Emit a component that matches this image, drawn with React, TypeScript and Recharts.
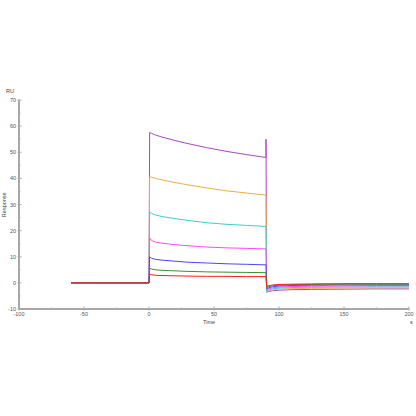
import { LineChart, Line, XAxis, YAxis } from 'recharts'

// time axis (s); repeated values give the vertical injection / wash steps
const TIME = [-60, 0, 0.5, 2, 5, 10, 20, 30, 45, 60, 75, 90, 90, 90.5, 92, 95, 100, 110, 125, 150, 175, 200]

const PURPLE = [0, 0, 57.6, 57.2, 56.6, 55.8, 54.5, 53.3, 51.7, 50.3, 49.1, 48.0, 55.0, -3.6, -3.3, -3.0, -2.8, -2.6, -2.5, -2.4, -2.3, -2.3]
const ORANGE = [0, 0, 40.7, 40.4, 40.0, 39.4, 38.4, 37.5, 36.3, 35.2, 34.4, 33.6, 33.6, -3.3, -3.0, -2.7, -2.4, -2.2, -2.1, -2.0, -1.9, -1.9]
const CYAN = [0, 0, 27.1, 26.6, 26.0, 25.4, 24.6, 23.9, 23.0, 22.4, 22.0, 21.6, 21.6, -3.0, -2.7, -2.3, -2.0, -1.8, -1.7, -1.6, -1.5, -1.5]
const MAGENTA = [0, 0, 17.2, 16.2, 15.6, 15.2, 14.6, 14.2, 13.7, 13.4, 13.2, 13.0, 13.0, -2.6, -2.3, -1.9, -1.6, -1.4, -1.3, -1.2, -1.1, -1.1]
const BLUE = [0, 0, 10.0, 9.4, 9.0, 8.7, 8.3, 7.9, 7.6, 7.3, 7.1, 6.9, 6.9, -2.2, -1.9, -1.5, -1.2, -1.0, -0.9, -0.8, -0.8, -0.8]
const GREEN = [0, 0, 5.6, 5.3, 5.0, 4.8, 4.6, 4.4, 4.2, 4.1, 4.0, 3.9, 3.9, -1.8, -1.5, -1.1, -0.9, -0.7, -0.6, -0.5, -0.5, -0.5]
const RED = [0, 0, 3.3, 3.1, 2.9, 2.8, 2.7, 2.6, 2.5, 2.5, 2.4, 2.4, 2.4, -1.4, -1.1, -0.8, -0.6, -0.5, -0.4, -0.3, -0.3, -0.3]

const X_TICKS = [-100, -75, -50, -25, 0, 25, 50, 75, 100, 125, 150, 175, 200]
const Y_TICKS = [-10, -5, 0, 5, 10, 15, 20, 25, 30, 35, 40, 45, 50, 55, 60, 65, 70]

const SERIES = [
  { key: 'purple', values: PURPLE, color: '#a848c0' },
  { key: 'orange', values: ORANGE, color: '#e8b048' },
  { key: 'cyan', values: CYAN, color: '#38d0d0' },
  { key: 'magenta', values: MAGENTA, color: '#ff48ff' },
  { key: 'blue', values: BLUE, color: '#4848ff' },
  { key: 'green', values: GREEN, color: '#3c8c3c' },
  { key: 'red', values: RED, color: '#ff1c1c' },
]

const data = TIME.map((t, i) => {
  const row: Record<string, number> = { t }
  SERIES.forEach((s) => (row[s.key] = s.values[i]))
  return row
})

const axisColor = '#a8a8a8'
const labelStyle = { fontFamily: 'Liberation Sans, Arial, sans-serif', fontSize: 5.5, fill: '#555' }

function XTick(props: any) {
  const { x, y, payload } = props
  const major = payload.value % 50 === 0
  return (
    <g>
      <line x1={x} x2={x} y1={y - (major ? 2.5 : 1.5)} y2={y + (major ? 1.5 : 0)} stroke={axisColor} strokeWidth={1} />
      {major && (
        <text x={x} y={y + 7} textAnchor="middle" {...labelStyle}>
          {payload.value}
        </text>
      )}
    </g>
  )
}

function YTick(props: any) {
  const { x, y, payload } = props
  const major = payload.value % 10 === 0
  return (
    <g>
      <line x1={x - (major ? 1.5 : 0)} x2={x + (major ? 2.5 : 1.5)} y1={y} y2={y} stroke={axisColor} strokeWidth={1} />
      {major && (
        <text x={x - 3} y={y + 2} textAnchor="end" {...labelStyle}>
          {payload.value}
        </text>
      )}
    </g>
  )
}

const txt = { position: 'absolute' as const, fontFamily: 'Liberation Sans, Arial, sans-serif', fontSize: 5.5, color: '#444', lineHeight: 1 }

export default function App() {
  return (
    <div style={{ position: 'absolute', left: 0, top: 0, width: 416, height: 416, background: '#fff' }}>
      <LineChart width={416} height={416} data={data} margin={{ top: 100, right: 7, bottom: 87, left: 0 }}>
        <XAxis
          dataKey="t"
          type="number"
          domain={[-100, 200]}
          ticks={X_TICKS}
          interval={0}
          height={20}
          axisLine={{ stroke: axisColor, strokeWidth: 2 }}
          tickLine={false}
          tickSize={0}
          tickMargin={0}
          tick={<XTick />}
        />
        <YAxis
          type="number"
          domain={[-10, 70]}
          ticks={Y_TICKS}
          interval={0}
          width={19}
          axisLine={{ stroke: axisColor, strokeWidth: 2 }}
          tickLine={false}
          tickSize={0}
          tickMargin={0}
          tick={<YTick />}
        />
        {SERIES.map((s) => (
          <Line key={s.key} type="linear" dataKey={s.key} stroke={s.color} strokeWidth={1} dot={false} isAnimationActive={false} />
        ))}
      </LineChart>
      <div style={{ ...txt, left: 6, top: 89 }}>RU</div>
      <div style={{ ...txt, left: 203, top: 320 }}>Time</div>
      <div style={{ ...txt, left: 410, top: 320 }}>s</div>
      <div style={{ ...txt, left: -10, top: 202, transform: 'rotate(-90deg)', width: 30, textAlign: 'center' }}>Response</div>
    </div>
  )
}
